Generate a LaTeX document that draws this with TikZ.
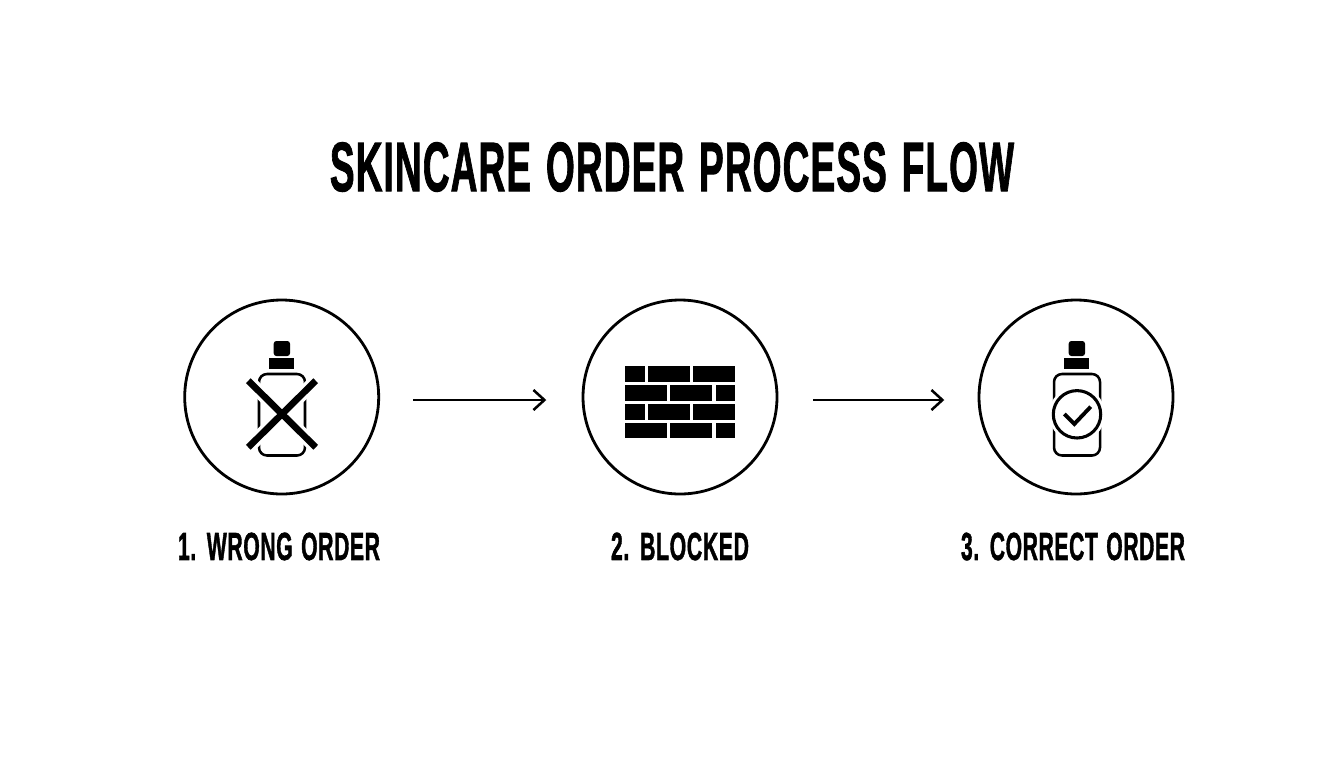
\documentclass[tikz,border=0pt]{standalone}
\usepackage{fontspec}
\usepackage{graphicx}
\usetikzlibrary{arrows.meta}
\newfontfamily\condfont{Liberation Sans}[LetterSpace=3,WordSpace=1.3,BoldFeatures={FakeBold=1.7}]
\newcommand{\fitlabel}[3]{\resizebox{#1}{#2}{\condfont\bfseries #3}}
\tikzset{
  stepcircle/.style={circle,draw=black,line width=2.1pt,minimum size=145.5pt,inner sep=0pt,fill=white},
  flowarrow/.style={draw=black,line width=1.6pt,-{Straight Barb[length=8.2pt,width=15pt,line width=1.9pt]}},
  heading/.style={inner sep=0pt,text=black},
  outlinebody/.style={draw=black,line width=1.9pt,rounded corners=6pt},
  solidpart/.style={fill=black},
  brick/.style={fill=black}
}
\begin{document}
\begin{tikzpicture}[x=0.75pt,y=-0.75pt]
\useasboundingbox (0,0) rectangle (1344,768);
\fill[white] (0,0) rectangle (1344,768);
% title and labels
\node[heading] (title) at (672,167) {\fitlabel{513pt}{36.5pt}{SKINCARE ORDER PROCESS FLOW}};
\node[heading] (l1) at (279,546.5) {\fitlabel{151.5pt}{20.5pt}{1. WRONG ORDER}};
\node[heading] (l2) at (680,546.5) {\fitlabel{103.5pt}{20.5pt}{2. BLOCKED}};
\node[heading] (l3) at (1073,546.5) {\fitlabel{168pt}{20.5pt}{3. CORRECT ORDER}};
% circles
\node[stepcircle] (c1) at (281.7,397) {};
\node[stepcircle] (c2) at (680,397) {};
\node[stepcircle] (c3) at (1076,397) {};
% connectors
\draw[flowarrow,shorten <=25pt,shorten >=26.5pt] ([yshift=-2.25pt]c1.east) -- ([yshift=-2.25pt]c2.west);
\draw[flowarrow,shorten <=26pt,shorten >=25pt] ([yshift=-2.25pt]c2.east) -- ([yshift=-2.25pt]c3.west);
% bottle with cross
\fill[solidpart,rounded corners=2pt] (273.7,356) -- (273.7,341) -- (290,341) -- (290,356) -- cycle;
\fill[solidpart] (269.3,358.3) rectangle (294.3,369.3);
\draw[outlinebody] (259,374) rectangle (305,455.5);
\draw[white,line width=10pt] (248.3,380.7) -- (315.7,447.3);
\draw[white,line width=10pt] (315.7,380.7) -- (248.3,447.3);
\draw[black,line width=5pt] (248.3,380.7) -- (315.7,447.3);
\draw[black,line width=5pt] (315.7,380.7) -- (248.3,447.3);
% wall of bricks
\foreach \ya/\yb in {366.3/381.7,404.3/419.7}{
  \fill[brick] (625.3,\ya) rectangle (644.7,\yb);
  \fill[brick] (648,\ya) rectangle (689.7,\yb);
  \fill[brick] (693,\ya) rectangle (734.7,\yb);
}
\foreach \ya/\yb in {385.3/400.7,423/438.3}{
  \fill[brick] (625.3,\ya) rectangle (666.7,\yb);
  \fill[brick] (670.3,\ya) rectangle (712,\yb);
  \fill[brick] (715.7,\ya) rectangle (734.7,\yb);
}
% bottle with check
\fill[solidpart,rounded corners=2pt] (1068.7,356) -- (1068.7,341) -- (1085,341) -- (1085,356) -- cycle;
\fill[solidpart] (1064,358.3) rectangle (1089.3,369.3);
\draw[outlinebody] (1054,374) rectangle (1100,455.5);
\fill[white] (1077,414.3) circle[radius=28];
\draw[black,line width=2.3pt] (1077,414.3) circle[radius=23.7];
\draw[black,line width=2.9pt] (1064.3,414) -- (1074.3,424) -- (1090.7,406.7);
\end{tikzpicture}
\end{document}
